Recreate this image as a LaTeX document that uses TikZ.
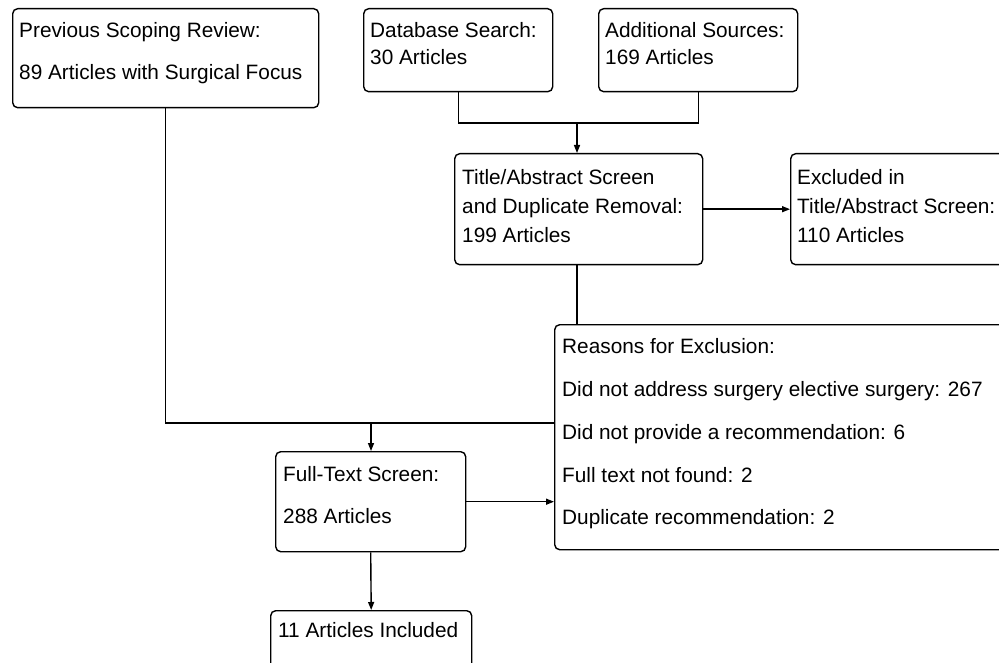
\documentclass[tikz,border=0pt]{standalone}
\usepackage{fontspec}
\setmainfont{Liberation Sans}
\usetikzlibrary{arrows.meta}
\begin{document}
\begin{tikzpicture}[x=1pt,y=-1pt,
  box/.style={draw, line width=1.4pt, rounded corners=5pt, inner sep=0pt, anchor=north west},
  txt/.style={anchor=base west, inner sep=0pt, font=\fontsize{20.8}{24}\selectfont},
  conn/.style={line width=1.4pt},
  arr/.style={line width=1.4pt, -{Triangle[length=8pt,width=6pt]}}]
\useasboundingbox (0,0) rectangle (999,663);
\clip (0,0) rectangle (999,663);
% boxes
\node[box, minimum width=306pt, minimum height=99pt] (prev) at (12,8) {};
\node[box, minimum width=189pt, minimum height=83pt] (db) at (363,8) {};
\node[box, minimum width=199pt, minimum height=83pt] (add) at (598,8) {};
\node[box, minimum width=248pt, minimum height=111pt] (title) at (454,153) {};
\node[box, minimum width=240pt, minimum height=111pt] (excl) at (790,153) {};
\node[box, minimum width=470pt, minimum height=225pt] (reas) at (554,324) {};
\node[box, minimum width=190pt, minimum height=100pt] (full) at (275,451) {};
\node[box, minimum width=201pt, minimum height=80pt] (incl) at (270,610) {};
% texts
\node[txt] (t1) at (19,38) {Previous Scoping Review:};
\node[txt] (t2) at (19,80) {89 Articles with Surgical Focus};
\node[txt] (t3) at (370,38) {Database Search:};
\node[txt] (t4) at (370,65) {30 Articles};
\node[txt] (t5) at (605,38) {Additional Sources:};
\node[txt] (t6) at (605,65) {169 Articles};
\node[txt] (t7) at (462,185) {Title/Abstract Screen};
\node[txt] (t8) at (462,214) {and Duplicate Removal:};
\node[txt] (t9) at (462,243) {199 Articles};
\node[txt] (t10) at (797,185) {Excluded in};
\node[txt] (t11) at (797,214) {Title/Abstract Screen:};
\node[txt] (t12) at (797,243) {110 Articles};
\node[txt] (t13) at (562,353) {Reasons for Exclusion:};
\node[txt] (t14) at (562,396) {Did not address surgery elective surgery: 267};
\node[txt] (t15) at (562,439) {Did not provide a recommendation: 6};
\node[txt] (t16) at (562,482) {Full text not found: 2};
\node[txt] (t17) at (562,524) {Duplicate recommendation: 2};
\node[txt] (t18) at (283,481) {Full-Text Screen:};
\node[txt] (t19) at (283,523) {288 Articles};
\node[txt] (t20) at (278,637) {11 Articles Included};
% connectors
\coordinate (j1) at (577,123);
\coordinate (j2) at (371,423);
\draw[conn] (db.south) |- (j1) -| (add.south);
\draw[arr] (j1) -- (j1 |- title.north);
\draw[arr] (title.east) -- (title.east -| excl.west);
\draw[conn] (j1 |- title.south) -- (j1 |- reas.north);
\draw[conn] (prev.south) |- (j2) -- (j2 -| reas.west);
\draw[arr] (j2) -- (j2 |- full.north);
\draw[arr] (full.east) -- (full.east -| reas.west);
\draw[arr] (full.south) -- (incl.north);
\end{tikzpicture}
\end{document}
